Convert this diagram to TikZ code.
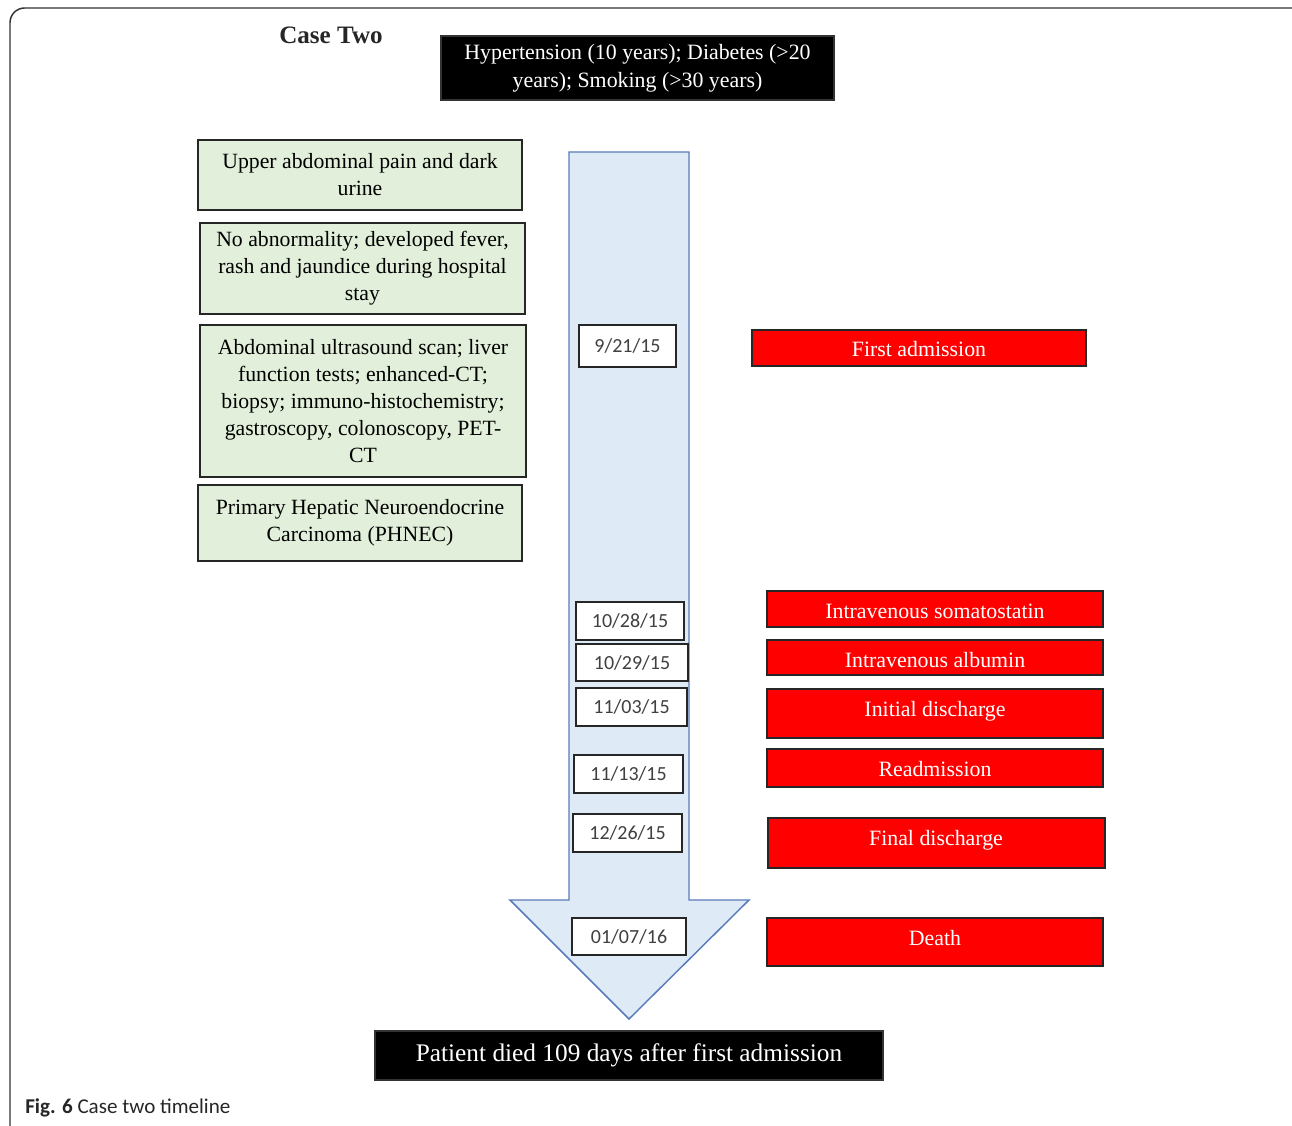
\documentclass[tikz,border=0pt]{standalone}
\usepackage{fontspec}
\setmainfont{Liberation Serif}
\newfontfamily\datefont{Carlito}
\newfontfamily\capfont{Carlito}
\definecolor{gfill}{HTML}{E2EFDA}
\definecolor{afill}{HTML}{DEEAF6}
\definecolor{aline}{HTML}{5A7BBA}
\definecolor{rfill}{HTML}{FF0000}
\definecolor{dtext}{HTML}{404040}
\begin{document}
\begin{tikzpicture}[x=0.75pt,y=-0.75pt,
  sz/.style 2 args={minimum width={#1*0.75pt}, minimum height={#2*0.75pt}},
  greenbox/.style={draw=black!85, line width=1.2pt, fill=gfill, inner sep=0pt, align=center, font=\fontsize{16.3}{20.2}\selectfont},
  datebox/.style={draw=black!85, line width=1pt, fill=white, inner sep=0pt, text=dtext, font=\datefont\fontsize{15}{18}\selectfont},
  redbox/.style={draw=black!85, line width=1pt, fill=rfill, inner sep=0pt},
  redtxt/.style={text=white, inner sep=0pt, anchor=base, font=\fontsize{16.4}{20}\selectfont},
  blackbox/.style={fill=black, draw=black!80, line width=0.8pt, inner sep=0pt, text=white, align=center},
  arrowshape/.style={fill=afill, draw=aline, line width=1.1pt, line join=miter}
]
\path[use as bounding box] (0,0) rectangle (1292,1126);
\begin{scope}
\clip (0,0) rectangle (1292,1126);
\draw[line width=1.1pt, black!80, rounded corners=11pt] (10,8) rectangle (1312,1150);
\end{scope}

% title
\node[font=\bfseries\fontsize{18.8}{22}\selectfont, text=black!85] (title) at (331,35) {Case Two};

% header black box
\node[blackbox, sz={393}{64}, font=\fontsize{16.4}{21}\selectfont] (risk) at (637.5,68)
  {Hypertension (10 years); Diabetes (>20\\ years); Smoking (>30 years)};

% timeline arrow
\draw[arrowshape] (569,152) -- (689,152) -- (689,900) -- (749,900) -- (629,1019) -- (510,900) -- (569,900) -- cycle;

% green boxes
\node[greenbox, sz={324}{70}] (g1) at (360,175) {Upper abdominal pain and dark\\ urine};
\node[greenbox, sz={325}{91}] (g2) at (362.5,268.5) {No abnormality; developed fever,\\ rash and jaundice during hospital\\ stay};
\node[greenbox, sz={326}{152}] (g3) at (363,401) {Abdominal ultrasound scan; liver\\ function tests; enhanced-CT;\\ biopsy; immuno-histochemistry;\\ gastroscopy, colonoscopy, PET-\\ CT};
\node[greenbox, sz={324}{76}] (g4) at (360,523) {Primary Hepatic Neuroendocrine\\ Carcinoma (PHNEC)};

% date boxes
\node[datebox, sz={97}{42}] (d1) at (627.5,346) {9/21/15};
\node[datebox, sz={108}{38}] (d2) at (630,621) {10/28/15};
\node[datebox, sz={112}{37}] (d3) at (632,662.5) {10/29/15};
\node[datebox, sz={111}{38}] (d4) at (631.5,707) {11/03/15};
\node[datebox, sz={109}{38}] (d5) at (628.5,774) {11/13/15};
\node[datebox, sz={109}{38}] (d6) at (627.5,833) {12/26/15};
\node[datebox, sz={114}{37}] (d7) at (629,936.5) {01/07/16};

% red event boxes
\node[redbox, sz={334}{36}] (e1) at (919,348) {};
\node[redtxt] (e1t) at (919,357) {First admission};
\node[redbox, sz={336}{36}] (e2) at (935,609) {};
\node[redtxt] (e2t) at (935,618) {Intravenous somatostatin};
\node[redbox, sz={336}{35}] (e3) at (935,657.5) {};
\node[redtxt] (e3t) at (935,667) {Intravenous albumin};
\node[redbox, sz={336}{49}] (e4) at (935,713.5) {};
\node[redtxt] (e4t) at (935,716) {Initial discharge};
\node[redbox, sz={336}{38}] (e5) at (935,768) {};
\node[redtxt] (e5t) at (935,776) {Readmission};
\node[redbox, sz={337}{50}] (e6) at (936.5,843) {};
\node[redtxt] (e6t) at (936,845) {Final discharge};
\node[redbox, sz={336}{48}] (e7) at (935,942) {};
\node[redtxt] (e7t) at (935,945) {Death};

% bottom summary
\node[blackbox, sz={508}{49}, font=\fontsize{19}{22}\selectfont] (sum) at (629,1055.5)
  {Patient died 109 days after first admission};

% caption
\node[anchor=base west, inner sep=0pt, text=black!85, font=\capfont\fontsize{15.8}{18}\selectfont] (cap) at (25,1113)
  {\textbf{Fig. 6} Case two timeline};
\end{tikzpicture}
\end{document}
